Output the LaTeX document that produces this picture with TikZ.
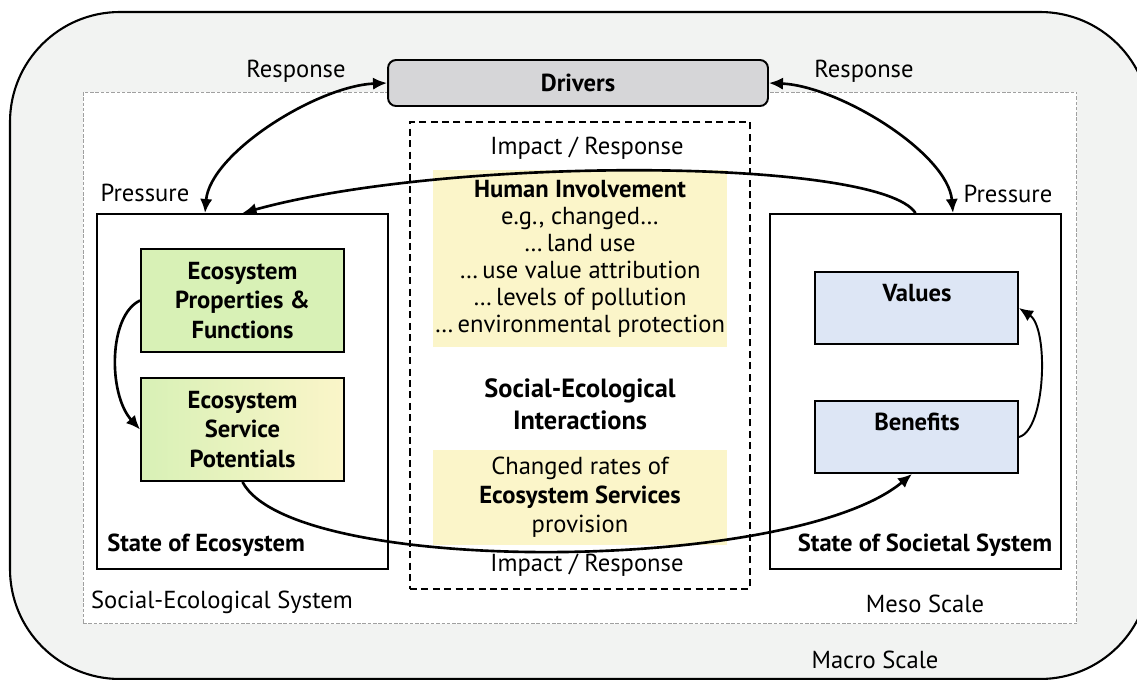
\documentclass[tikz,border=0pt]{standalone}
\usepackage{fontspec}
\setmainfont{PT Sans}
\usepackage{tikz}
\usetikzlibrary{arrows.meta}

\definecolor{macrogray}{HTML}{F2F3F2}
\definecolor{mesogray}{HTML}{A0A0A0}
\definecolor{drvgray}{HTML}{D6D6D8}
\definecolor{ylw}{HTML}{FBF5C9}
\definecolor{grn}{HTML}{D8F1B6}
\definecolor{blu}{HTML}{DDE6F5}

\tikzset{
  lbl/.style={font=\fontsize{14}{16}\selectfont, inner sep=0pt},
  bf/.style={font=\fontsize{14}{16}\selectfont\bfseries, inner sep=0pt},
  box/.style={draw, line width=1.1pt, inner sep=0pt},
  smallbox/.style={box, minimum width=4.06cm},
  conn/.style={line width=1.5pt, >={Latex[length=8pt,width=7pt]}},
}

\begin{document}
\begin{tikzpicture}[x=0.02cm, y=-0.02cm]
\clip (0,0) rectangle (1137,680);
%
\draw[fill=macrogray, line width=1.2pt, rounded corners=2.2cm] (10,12) rectangle (1150,679);
\node[draw=mesogray, fill=white, line width=0.6pt, dash pattern=on 2pt off 1pt, minimum width=19.88cm, minimum height=10.64cm] (meso) at (580,358) {};
%
\node[box, rounded corners=0.16cm, fill=drvgray, minimum width=7.6cm, minimum height=0.92cm, bf] (drv) at (578,83) {Drivers};
\node[lbl] (resl) at (296,71) {Response};
\node[lbl] (resr) at (864,71) {Response};
\node[lbl] (presl) at (145,193) {Pressure};
\node[lbl] (presr) at (1008,194) {Pressure};
%
\node[draw, line width=1pt, dash pattern=on 4pt off 2.5pt, minimum width=6.8cm, minimum height=9.34cm] (sei) at (580,355.5) {};
\node[lbl] (irtop) at (587,148) {Impact / Response};
\node[lbl] (irbot) at (587,565) {Impact / Response};
%
\node[fill=ylw, minimum width=5.88cm, minimum height=3.54cm, align=center, inner sep=0pt, font=\fontsize{14}{15.4}\selectfont] (hum) at (580,258.5)
  {\textbf{Human Involvement}\\e.g., changed…\\…\,land use\\…\,use value attribution\\…\,levels of pollution\\…\,environmental protection};
\node[align=center, inner sep=0pt, font=\fontsize{15}{18}\selectfont\bfseries] (seilbl) at (580,404) {Social-Ecological\\Interactions};
\node[fill=ylw, minimum width=5.88cm, minimum height=1.9cm, align=center, inner sep=0pt, font=\fontsize{14}{16.5}\selectfont] (ess) at (580,497.5)
  {Changed rates of\\\textbf{Ecosystem Services}\\provision};
%
\node[box, fill=white, minimum width=5.82cm, minimum height=7.1cm] (soe) at (242.5,391.5) {};
\node[bf, anchor=west] (soelbl) at (107,545) {State of Ecosystem};
\node[smallbox, fill=grn, minimum height=2.06cm, align=center, font=\fontsize{14}{17}\selectfont\bfseries] (epf) at (242.5,300.5)
  {Ecosystem\\Properties \&\\Functions};
\node[smallbox, left color=grn, right color=ylw, minimum height=2.06cm, align=center, font=\fontsize{14}{17}\selectfont\bfseries] (esp) at (242.5,429.5)
  {Ecosystem\\Service\\Potentials};
%
\node[box, fill=white, minimum width=5.82cm, minimum height=7.1cm] (sos) at (915.5,391.5) {};
\node[bf] (soslbl) at (925,545) {State of Societal System};
\node[smallbox, fill=blu, minimum height=1.44cm] (val) at (916.5,308) {};
\node[bf] (valtxt) at (917,293) {Values};
\node[smallbox, fill=blu, minimum height=1.44cm] (ben) at (916.5,437) {};
\node[bf] (bentxt) at (917,422) {Benefits};
%
\node[lbl] (seslbl) at (222,602) {Social-Ecological System};
\node[lbl] (mesolbl) at (925,604) {Meso Scale};
\node[lbl] (macrolbl) at (875,660) {Macro Scale};
%
\draw[conn, <->] (drv.west) .. controls +(-70,3) and +(5,-60) .. ([xshift=-0.75cm]soe.north);
\draw[conn, <->] (drv.east) .. controls +(70,3) and +(-5,-60) .. ([xshift=0.75cm]sos.north);
\draw[conn, ->] (sos.north) .. controls +(-35,-55) and +(210,-58) .. (soe.north);
\draw[conn, ->] (esp.south) .. controls +(50,95) and +(-120,100) .. ([xshift=-0.09cm]ben.south);
\draw[conn, ->] (epf.west) .. controls +(-32,15) and +(-32,-35) .. (esp.west);
\draw[conn, line width=1.1pt, ->] (ben.east) .. controls +(27,-7) and +(30,20) .. (val.east);
\end{tikzpicture}
\end{document}
